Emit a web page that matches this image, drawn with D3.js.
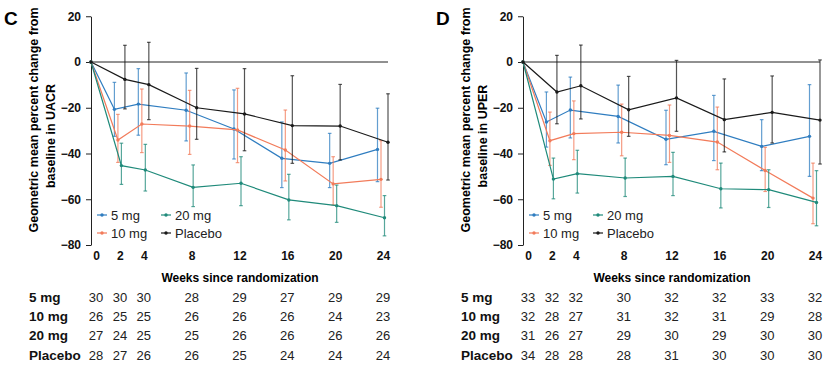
<!DOCTYPE html>
<html><head><meta charset="utf-8">
<script src="https://cdn.jsdelivr.net/npm/d3@7"></script>
<style>
body{margin:0;background:#fff;}
svg{display:block;font-family:"Liberation Sans",Arial,Helvetica,sans-serif;}
</style></head>
<body>
<svg id="chart" width="830" height="366"></svg>
<script>
const weeks = [0, 2, 4, 8, 12, 16, 20, 24];
const weekLabels = ["0", "2", "4", "8", "12", "16", "20", "24"];
const yTicks = [-80, -60, -40, -20, 0, 20];
const seriesNames = ["5 mg", "10 mg", "20 mg", "Placebo"];
const seriesColors = ["#2f7dc0", "#f27b5a", "#1f8a7a", "#1a1a1a"];

// Panel C (UACR)
const c5 = [0, -20.7, -18.4, -21.1, -29.3, -42.1, -44.3, -38.2];
const c5Up = [null, -8.9, -2.9, -4.8, -12.2, -26.2, -31.2, -20.2];
const c5Lo = [null, -32.5, -32, -34.5, -42.4, -54.9, -54.9, -52.3];
const c10 = [0, -34.1, -27.1, -28, -29.7, -38.5, -53.3, -51.3];
const c10Up = [null, -22.9, -11.8, -12.4, -11.5, -21, -41.4, -34.4];
const c10Lo = [null, -43.9, -39.6, -40.4, -44, -52, -62.5, -63.5];
const c20 = [0, -45.3, -47.2, -54.8, -53, -60.3, -62.8, -68.1];
const c20Up = [null, -35.5, -36, -45, -41.4, -49.1, -53.8, -58.4];
const c20Lo = [null, -53.5, -56.4, -63.2, -62.8, -69, -70.1, -76];
const cPl = [0, -7.6, -9.9, -20, -22.7, -27.8, -28, -35.1];
const cPlUp = [null, 7.3, 8.6, -2.8, -2.9, -6, -9.8, -13.9];
const cPlLo = [null, -20.5, -25.2, -33.8, -38.8, -44.3, -42.8, -51.6];
const cN5 = [30, 30, 30, 28, 29, 27, 29, 29];
const cN10 = [26, 25, 25, 26, 26, 26, 24, 23];
const cN20 = [27, 24, 25, 25, 26, 26, 26, 26];
const cNPl = [28, 27, 26, 26, 25, 24, 24, 24];

// Panel D (UPER)
const d5 = [0, -26.2, -21, -23.8, -33.8, -30.3, -36.9, -32.5];
const d5Up = [null, -13.1, -6.6, -10.1, -21.1, -14.6, -25.2, -9.9];
const d5Lo = [null, -37.2, -33.2, -35.4, -44.9, -43.1, -47.5, -50];
const d10 = [0, -34.4, -31.3, -30.7, -32.1, -35, -47.4, -59.5];
const d10Up = [null, -21.9, -17, -18.4, -18.8, -19.7, -37.3, -44.2];
const d10Lo = [null, -45.2, -42.7, -41, -43.9, -47.1, -56.6, -70.7];
const d20 = [0, -51.2, -48.8, -50.7, -50, -55.4, -55.8, -61.4];
const d20Up = [null, -42, -38.6, -42, -39.5, -44.2, -47.1, -47.5];
const d20Lo = [null, -59.8, -57.3, -58.8, -58.4, -63.8, -63.6, -71.6];
const dPl = [0, -13.1, -10.4, -20.9, -15.7, -25.2, -22, -25.4];
const dPlUp = [null, 2.9, 7.4, -6.3, 0.7, -7.4, -6.1, 0.9];
const dPlLo = [null, -27, -24.9, -32.5, -30.3, -39.3, -35.4, -44.6];
const dN5 = [33, 32, 32, 30, 32, 32, 33, 32];
const dN10 = [32, 28, 27, 31, 32, 31, 29, 28];
const dN20 = [31, 26, 27, 29, 30, 29, 30, 30];
const dNPl = [34, 28, 28, 28, 31, 30, 30, 30];

const panels = [
  {label: "C", dx: 0, measure: "UACR",
   mean: [c5, c10, c20, cPl], up: [c5Up, c10Up, c20Up, cPlUp], lo: [c5Lo, c10Lo, c20Lo, cPlLo],
   n: [cN5, cN10, cN20, cNPl]},
  {label: "D", dx: 432, measure: "UPER",
   mean: [d5, d10, d20, dPl], up: [d5Up, d10Up, d20Up, dPlUp], lo: [d5Lo, d10Lo, d20Lo, dPlLo],
   n: [dN5, dN10, dN20, dNPl]}
];

const svg = d3.select("#chart");
const dodge = [-5.5, -2, 1.5, 5];
const axisShift = -5;

panels.forEach(p => {
  const g = svg.append("g").attr("transform", `translate(${p.dx},0)`);
  const x = d3.scaleLinear().domain([0, 24]).range([96, 383]);
  const y = d3.scaleLinear().domain([-80, 20]).range([245, 16.25]);
  const ax = x(0) + axisShift;
  const px = (w, i) => w === 0 ? ax : x(w) + dodge[i];

  // panel letter
  g.append("text").attr("x", 4).attr("y", 25).attr("font-size", 19).attr("font-weight", "bold").text(p.label);

  // y title
  g.append("text").attr("transform", `translate(37.5,120) rotate(-90)`).attr("text-anchor", "middle")
    .attr("font-size", 12.5).attr("font-weight", "bold").text("Geometric mean percent change from");
  g.append("text").attr("transform", `translate(55,136) rotate(-90)`).attr("text-anchor", "middle")
    .attr("font-size", 12.5).attr("font-weight", "bold").text("baseline in " + p.measure);

  // y axis
  const yAxis = g.append("g").attr("transform", `translate(${ax},0)`)
    .call(d3.axisLeft(y).tickValues(yTicks).tickSize(5).tickSizeOuter(0).tickPadding(5));
  yAxis.select(".domain").attr("stroke", "#222").attr("stroke-width", 1);
  yAxis.selectAll(".tick line").attr("stroke", "#222");
  yAxis.selectAll(".tick text").attr("font-size", 12).attr("font-weight", "bold").attr("fill", "#111")
    .attr("font-family", "Liberation Sans, Arial, sans-serif");

  // zero line
  g.append("line").attr("x1", ax).attr("x2", x(24) + 5).attr("y1", y(0)).attr("y2", y(0))
    .attr("stroke", "#222").attr("stroke-width", 1);

  // x tick labels
  const xAxis = g.append("g").attr("transform", `translate(0,251)`)
    .call(d3.axisBottom(x).tickValues(weeks).tickFormat((d, i) => weekLabels[i]).tickSize(0).tickPadding(0));
  xAxis.select(".domain").remove();
  xAxis.selectAll(".tick text").attr("font-size", 12).attr("font-weight", "bold").attr("fill", "#111")
    .attr("font-family", "Liberation Sans, Arial, sans-serif");

  g.append("text").attr("x", 240).attr("y", 282).attr("text-anchor", "middle")
    .attr("font-size", 12).attr("font-weight", "bold").text("Weeks since randomization");

  // series
  p.mean.forEach((vals, i) => {
    const col = seriesColors[i];
    const pts = weeks.map((w, k) => ({w, v: vals[k], up: p.up[i][k], lo: p.lo[i][k]}));
    const sg = g.append("g");
    // error bars
    pts.filter(d => d.up !== null).forEach(d => {
      const xx = px(d.w, i);
      sg.append("line").attr("x1", xx).attr("x2", xx).attr("y1", y(d.up)).attr("y2", y(d.lo))
        .attr("stroke", col).attr("stroke-opacity", 0.75).attr("stroke-width", 1.2);
      [d.up, d.lo].forEach(e => sg.append("line").attr("x1", xx - 1.8).attr("x2", xx + 1.8)
        .attr("y1", y(e)).attr("y2", y(e)).attr("stroke", col).attr("stroke-opacity", 0.75).attr("stroke-width", 1.2));
    });
    sg.append("path").datum(pts)
      .attr("d", d3.line().x(d => px(d.w, i)).y(d => y(d.v)))
      .attr("fill", "none").attr("stroke", col).attr("stroke-width", 1.2);
    sg.selectAll("circle").data(pts).join("circle")
      .attr("cx", d => px(d.w, i)).attr("cy", d => y(d.v)).attr("r", 1.7).attr("fill", col);
  });

  // legend
  const legPos = [[97, 215], [97, 233], [161, 215], [161, 233]];
  seriesNames.forEach((name, i) => {
    const [lx, ly] = legPos[i];
    g.append("line").attr("x1", lx).attr("x2", lx + 10).attr("y1", ly).attr("y2", ly)
      .attr("stroke", seriesColors[i]).attr("stroke-width", 1.2);
    g.append("circle").attr("cx", lx + 5).attr("cy", ly).attr("r", 1.7).attr("fill", seriesColors[i]);
    g.append("text").attr("x", lx + 14).attr("y", ly + 4.7).attr("font-size", 13).attr("fill", "#222").text(name);
  });

  // table
  const rowY = [301.7, 321, 340.3, 359.6];
  seriesNames.forEach((name, i) => {
    g.append("text").attr("x", 29).attr("y", rowY[i]).attr("font-size", 13.5).attr("font-weight", "bold")
      .attr("fill", "#111").text(name);
    g.selectAll(null).data(p.n[i]).join("text")
      .attr("x", (d, k) => x(weeks[k])).attr("y", rowY[i]).attr("text-anchor", "middle")
      .attr("font-size", 13).attr("fill", "#222").text(d => d);
  });
});
</script>
</body></html>
